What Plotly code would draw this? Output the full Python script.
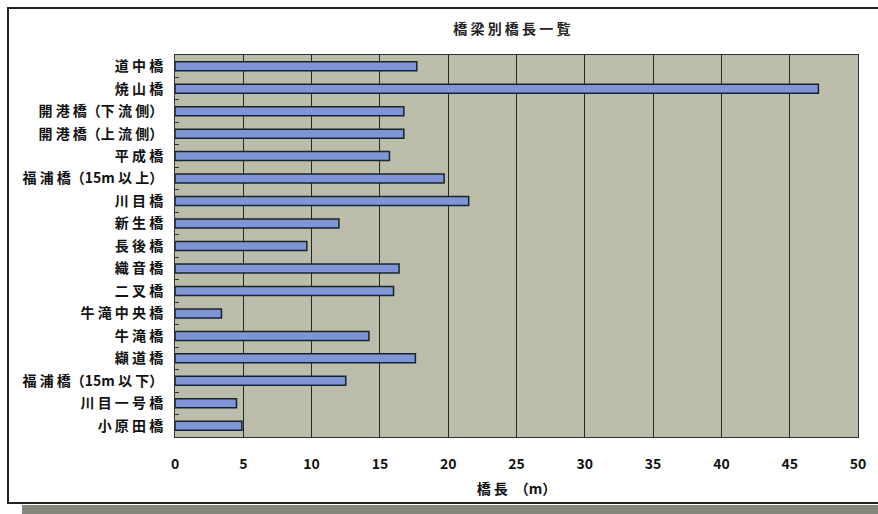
import plotly.graph_objects as go

bridges = ["道中橋", "焼山橋", "開港橋（下流側）", "開港橋（上流側）", "平成橋", "福浦橋（15m以上）",
           "川目橋", "新生橋", "長後橋", "織音橋", "二叉橋", "牛滝中央橋", "牛滝橋", "纈道橋",
           "福浦橋（15m以下）", "川目一号橋", "小原田橋"]
lengths = [17.7, 47.1, 16.75, 16.75, 15.7, 19.7, 21.5, 12.0, 9.65, 16.4, 16.0, 3.4, 14.2, 17.6,
           12.5, 4.5, 4.9]
x_ticks = [0, 5, 10, 15, 20, 25, 30, 35, 40, 45, 50]

FONT = "Noto Sans CJK JP"


def spaced(s):
    # widen character pitch like the original (scanned Excel chart)
    out = ""
    for i, ch in enumerate(s):
        out += ch
        if i + 1 < len(s):
            nxt = s[i + 1]
            if ch.isascii() and nxt.isascii():
                continue
            if ch in "（" or nxt in "（）" or ch == "）":
                continue
            out += " "
    return out


fig = go.Figure()
fig.add_trace(go.Bar(
    x=lengths, y=bridges, orientation="h",
    marker=dict(color="#7f95d6", line=dict(color="#14242c", width=1.5)),
))

fig.update_layout(
    width=878, height=514,
    margin=dict(l=175, r=20, t=55, b=77),
    paper_bgcolor="white",
    plot_bgcolor="#bcbcab",
    bargap=0.6,
    showlegend=False,
    font=dict(family=FONT, color="#111", size=14),
    title=dict(text="<b>" + spaced("橋梁別橋長一覧") + "</b>", x=0.583, xanchor="center",
               y=0.943, yanchor="middle",
               font=dict(family=FONT, size=14, color="#222")),
    xaxis=dict(
        range=[0, 50], tickvals=x_ticks, ticktext=[f"<b>{v}</b>" for v in x_ticks],
        showgrid=True, gridcolor="#222828", gridwidth=1.2,
        showline=True, linecolor="#333", linewidth=1, mirror=True,
        ticks="", ticklabelstandoff=14, zeroline=False,
        tickfont=dict(family=FONT, size=14, color="#111"),
        title=dict(text="<b>橋 長　（m）</b>", standoff=12, font=dict(family=FONT, size=14, color="#111")),
    ),
    yaxis=dict(
        autorange="reversed", type="category",
        showgrid=False, showline=True, linecolor="#333", linewidth=1, mirror=True,
        ticks="inside", tickson="boundaries", ticklen=4, tickcolor="#333",
        ticklabelstandoff=8,
        tickvals=bridges, ticktext=["<b>" + spaced(b) + "</b>" for b in bridges],
        tickfont=dict(family=FONT, size=14, color="#111"),
    ),
    shapes=[
        dict(type="rect", xref="paper", yref="paper",
             x0=-167/683, x1=900/683, y0=-66/382, y1=1 + 47/382,
             line=dict(color="#222", width=2), fillcolor="rgba(0,0,0,0)", layer="below"),
        dict(type="rect", xref="paper", yref="paper",
             x0=-153/683, x1=900/683, y0=-90/382, y1=-68/382,
             line=dict(width=0), fillcolor="#85857c", layer="below"),
    ],
)

fig.write_html("out.html", config={"displayModeBar": False},
               post_script="document.body.style.margin='0';")
